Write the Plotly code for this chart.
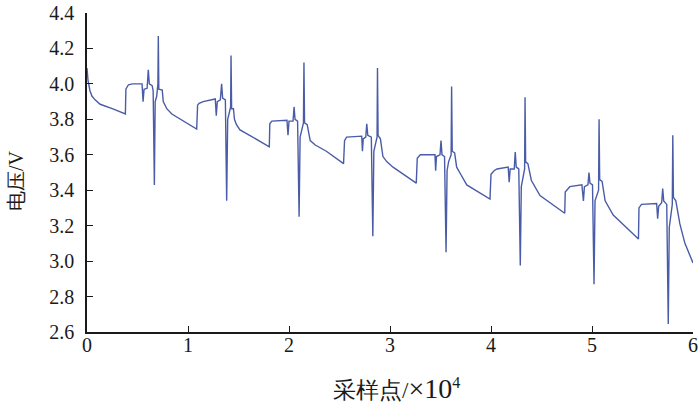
import plotly.graph_objects as go

# Sample index (x 10^4) and voltage (V)
sample_x = [
    0.00, 0.01, 0.03, 0.05, 0.08, 0.13, 0.25, 0.38,
    0.385, 0.41, 0.45, 0.545, 0.555, 0.565, 0.595, 0.607, 0.617, 0.645, 0.655, 0.667, 0.675, 0.69, 0.702, 0.706, 0.711, 0.745, 0.755, 0.79, 0.84, 0.97, 1.086,
    1.095, 1.11, 1.15, 1.27, 1.28, 1.29, 1.32, 1.333, 1.343, 1.37, 1.383, 1.393, 1.41, 1.422, 1.426, 1.432, 1.45, 1.46, 1.48, 1.515, 1.61, 1.805,
    1.81, 1.83, 1.98, 1.99, 2.00, 2.04, 2.05, 2.06, 2.085, 2.10, 2.11, 2.13, 2.143, 2.148, 2.154, 2.18, 2.21, 2.26, 2.37, 2.54,
    2.55, 2.57, 2.72, 2.727, 2.735, 2.76, 2.77, 2.78, 2.815, 2.83, 2.84, 2.86, 2.872, 2.876, 2.882, 2.905, 2.93, 2.97, 3.03, 3.26,
    3.27, 3.30, 3.445, 3.452, 3.46, 3.495, 3.505, 3.515, 3.54, 3.555, 3.565, 3.58, 3.605, 3.61, 3.616, 3.64, 3.66, 3.70, 3.76, 3.99,
    4.00, 4.03, 4.06, 4.17, 4.18, 4.19, 4.23, 4.24, 4.25, 4.275, 4.29, 4.30, 4.32, 4.333, 4.337, 4.343, 4.365, 4.40, 4.485, 4.73,
    4.735, 4.76, 4.78, 4.90, 4.915, 4.925, 4.96, 4.97, 4.98, 5.005, 5.02, 5.03, 5.05, 5.065, 5.07, 5.076, 5.10, 5.13, 5.21, 5.46,
    5.465, 5.49, 5.64, 5.65, 5.66, 5.69, 5.70, 5.71, 5.74, 5.755, 5.765, 5.78, 5.795, 5.80, 5.806, 5.83, 5.87, 5.92, 6.00,
]
voltage = [
    4.09, 4.02, 3.96, 3.93, 3.91, 3.885, 3.86, 3.83,
    3.97, 3.995, 4.00, 4.00, 3.90, 3.97, 3.975, 4.08, 4.00, 3.99, 3.96, 3.43, 3.90, 3.93, 4.00, 4.27, 3.97, 3.965, 3.90, 3.86, 3.83, 3.785, 3.745,
    3.88, 3.89, 3.90, 3.915, 3.82, 3.90, 3.91, 4.00, 3.92, 3.91, 3.34, 3.80, 3.84, 3.87, 4.16, 3.86, 3.86, 3.80, 3.77, 3.74, 3.71, 3.645,
    3.775, 3.79, 3.795, 3.71, 3.79, 3.79, 3.87, 3.80, 3.79, 3.25, 3.70, 3.75, 3.78, 4.12, 3.78, 3.77, 3.68, 3.655, 3.62, 3.55,
    3.68, 3.70, 3.705, 3.62, 3.69, 3.70, 3.775, 3.71, 3.70, 3.14, 3.62, 3.67, 3.70, 4.09, 3.71, 3.69, 3.59, 3.56, 3.53, 3.44,
    3.58, 3.60, 3.60, 3.51, 3.59, 3.60, 3.68, 3.60, 3.59, 3.05, 3.51, 3.56, 3.60, 3.985, 3.62, 3.61, 3.53, 3.49, 3.43, 3.35,
    3.49, 3.51, 3.52, 3.53, 3.445, 3.52, 3.52, 3.615, 3.53, 3.52, 2.975, 3.42, 3.48, 3.52, 3.925, 3.56, 3.55, 3.455, 3.37, 3.27,
    3.39, 3.41, 3.42, 3.43, 3.34, 3.42, 3.43, 3.50, 3.44, 3.43, 2.87, 3.34, 3.37, 3.40, 3.80, 3.46, 3.45, 3.34, 3.26, 3.125,
    3.30, 3.32, 3.325, 3.24, 3.31, 3.33, 3.41, 3.34, 3.32, 2.645, 3.19, 3.27, 3.32, 3.71, 3.36, 3.34, 3.21, 3.10, 2.99,
]

x_ticks = [0, 1, 2, 3, 4, 5, 6]
y_ticks = [2.6, 2.8, 3.0, 3.2, 3.4, 3.6, 3.8, 4.0, 4.2, 4.4]
x_title = "采样点/<span style='font-size:28px'>×10</span><sup>4</sup>"
y_title = "电压/V"

serif = "Times New Roman"
ink = "#1a1a1a"

fig = go.Figure()
fig.add_trace(go.Scatter(
    x=sample_x, y=voltage, mode="lines",
    line=dict(color="#4a5ca8", width=1.4),
    showlegend=False, hoverinfo="skip",
))

axis_common = dict(
    showline=True, linecolor=ink, linewidth=1.5,
    ticks="inside", ticklen=6, tickwidth=1.4, tickcolor=ink,
    showgrid=False, zeroline=False, mirror=False, automargin=False,
    tickfont=dict(family=serif, size=20, color=ink),
)

fig.update_layout(
    width=700, height=405,
    margin=dict(l=87, r=7, t=13, b=73),
    paper_bgcolor="white", plot_bgcolor="white",
    font=dict(family=serif),
    xaxis=dict(
        range=[0, 6], tickvals=x_ticks, ticktext=[str(v) for v in x_ticks],
        ticklabelstandoff=-6,
        **axis_common,
    ),
    yaxis=dict(
        range=[2.6, 4.4], tickvals=y_ticks, ticktext=[f"{v:.1f}" for v in y_ticks],
        ticklabelstandoff=7,
        **axis_common,
    ),
    annotations=[
        dict(text=x_title, xref="paper", yref="paper", x=0.51, y=0, yshift=-56,
             xanchor="center", yanchor="middle", showarrow=False,
             font=dict(family=serif, size=23, color=ink)),
        dict(text=y_title, xref="paper", yref="paper", x=0, y=0.473, xshift=-71,
             xanchor="center", yanchor="middle", textangle=-90, showarrow=False,
             font=dict(family=serif, size=20, color=ink)),
    ],
)

fig.write_html("out.html", config={"displayModeBar": False},
               post_script="document.body.style.margin='0px';")
